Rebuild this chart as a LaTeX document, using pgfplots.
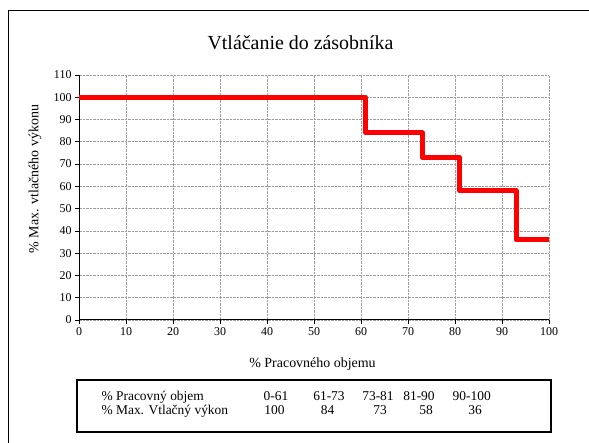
\documentclass[border=0pt]{standalone}
\usepackage{fontspec}
\setmainfont{Liberation Serif}
\usepackage{pgfplots}
\pgfplotsset{compat=1.18}
\begin{document}
\begin{tikzpicture}[x=1bp,y=1bp]
\useasboundingbox (0,0) rectangle (589,443);
\draw[line width=1bp] (8,0) -- (8,432) -- (589,432);
\node[anchor=base, font=\fontsize{20}{24}\selectfont] at (300.5,393) {Vtláčanie do zásobníka};
\begin{axis}[at={(79bp,123bp)}, anchor=south west, scale only axis,
  width=470bp, height=245bp,
  xmin=0, xmax=100, ymin=0, ymax=110,
  xtick={0,10,...,100}, ytick={0,10,...,110},
  axis x line*=bottom, axis y line*=left,
  axis line style={-, black, line width=1bp},
  tick align=outside, major tick length=4bp,
  tick style={black, line width=0.8bp},
  grid=major,
  major grid style={black!38, dash pattern=on 2.5bp off 1bp, line width=0.7bp},
  tick label style={font=\fontsize{12}{14}\selectfont},
  /pgf/number format/assume math mode=true,
  ]
\addplot[red, line width=5bp, const plot, line join=round] coordinates {(0,100) (61,84) (73,73) (81,58) (93,36) (100,36)};
\end{axis}
\node[rotate=90, font=\fontsize{14}{16}\selectfont] at (35,264) {\% Max. vtlačného výkonu};
\node[anchor=base, font=\fontsize{14}{16}\selectfont] at (312.5,75) {\% Pracovného objemu};
\draw[line width=1.8bp] (76.7,11) rectangle (550.7,63);
\begin{scope}[every node/.style={anchor=base, font=\fontsize{13.5}{15}\selectfont}]
\node[anchor=base west] at (98,42) {\% Pracovný objem};
\node[anchor=base west] at (98,28) {\% Max. Vtlačný výkon};
\node at (276,42) {0-61};
\node at (329,42) {61-73};
\node at (378,42) {73-81};
\node at (419,42) {81-90};
\node at (471.7,42) {90-100};
\node at (274.5,28) {100};
\node at (327.5,28) {84};
\node at (380,28) {73};
\node at (426,28) {58};
\node at (475,28) {36};
\end{scope}
\end{tikzpicture}
\end{document}
